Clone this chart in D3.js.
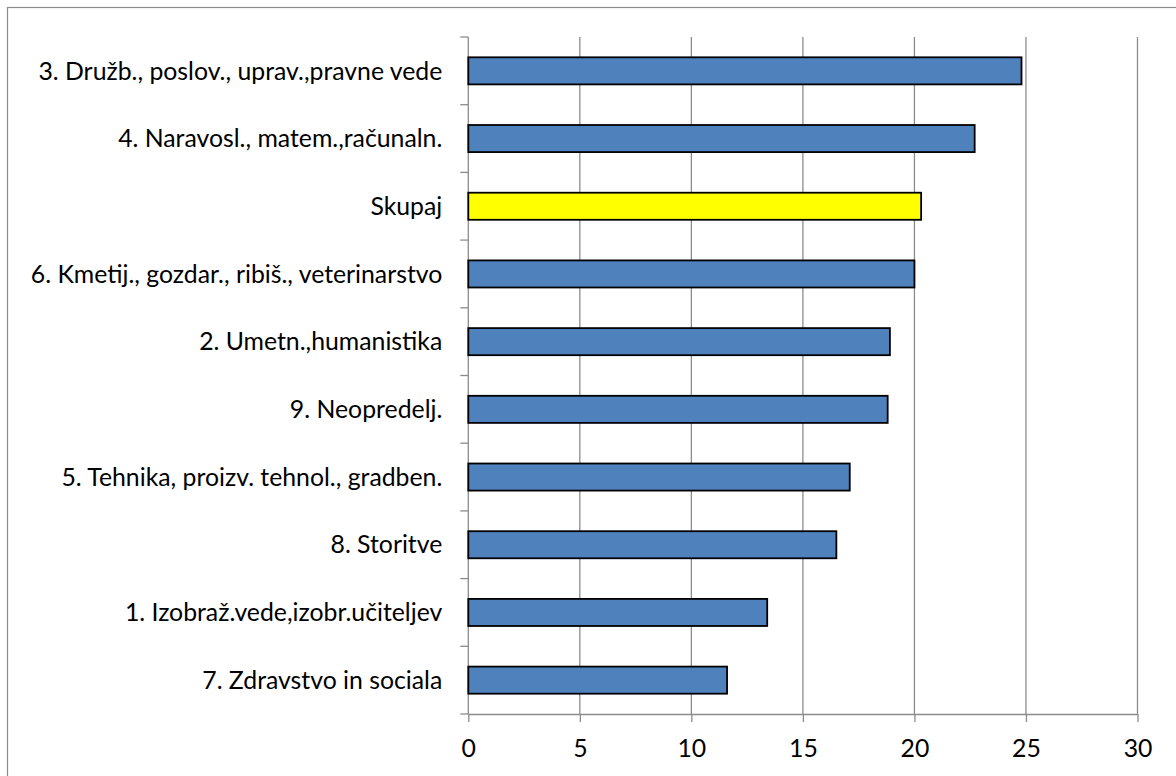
<!DOCTYPE html>
<html>
<head>
<meta charset="utf-8">
<script src="https://cdn.jsdelivr.net/npm/d3@7"></script>
<style>
  body { margin: 0; background: #fff; }
  svg { display: block; }
  text { font-family: Lato, "Open Sans", sans-serif; fill: #000; }
</style>
</head>
<body>
<div id="chart"></div>
<script>
  // categories top to bottom
  var categories = [
    "3. Družb., poslov., uprav.,pravne vede",
    "4. Naravosl., matem.,računaln.",
    "Skupaj",
    "6. Kmetij., gozdar., ribiš., veterinarstvo",
    "2. Umetn.,humanistika",
    "9. Neopredelj.",
    "5. Tehnika, proizv. tehnol., gradben.",
    "8. Storitve",
    "1. Izobraž.vede,izobr.učiteljev",
    "7. Zdravstvo in sociala"
  ];
  var values = [24.8, 22.7, 20.3, 20.0, 18.9, 18.8, 17.1, 16.5, 13.4, 11.6];
  var xTicks = [0, 5, 10, 15, 20, 25, 30];
  var highlight = "Skupaj";

  var width = 1176, height = 776;
  var margin = {top: 37, right: 38.5, bottom: 62, left: 468.3};
  var fontSize = 24.8;

  var svg = d3.select("#chart")
    .append("svg")
    .attr("width", width)
    .attr("height", height);

  //outer frame (cut off at right and bottom like the picture)
  svg.append("rect")
    .attr("x", 7.5).attr("y", 7.5)
    .attr("width", width + 10).attr("height", height + 10)
    .attr("fill", "none")
    .attr("stroke", "#8c8c8c")
    .attr("stroke-width", 1.2);

  var x = d3.scaleLinear()
    .domain([0, 30])
    .range([margin.left, width - margin.right]);

  var y = d3.scaleBand()
    .domain(categories)
    .range([margin.top, height - margin.bottom])
    .paddingInner(0.6)
    .paddingOuter(0.3);

  var gridColor = "#8c8c8c";

  // vertical gridlines
  svg.append("g")
    .selectAll("line")
    .data(xTicks.slice(1))
    .enter()
    .append("line")
    .attr("x1", function(d){ return x(d); })
    .attr("x2", function(d){ return x(d); })
    .attr("y1", margin.top)
    .attr("y2", height - margin.bottom)
    .attr("stroke", gridColor)
    .attr("stroke-width", 1.3);

  // bottom axis
  var xAxis = svg.append("g")
    .attr("transform", "translate(0," + (height - margin.bottom) + ")")
    .call(d3.axisBottom(x).tickValues(xTicks).tickSize(8).tickPadding(17).tickSizeOuter(0));
  xAxis.select(".domain").attr("stroke", gridColor).attr("stroke-width", 1.3);
  xAxis.selectAll(".tick line").attr("stroke", gridColor).attr("stroke-width", 1.3);
  xAxis.selectAll("text")
    .attr("font-size", fontSize)
    .attr("font-family", "Lato, sans-serif")
    .attr("fill", "#000");

  // left axis: line plus ticks on band edges
  var bandEdges = categories.map(function(c){ return y(c) - y.step() * y.paddingInner() / 2; });
  bandEdges.push(height - margin.bottom);

  svg.append("line")
    .attr("x1", x(0)).attr("x2", x(0))
    .attr("y1", margin.top).attr("y2", height - margin.bottom)
    .attr("stroke", gridColor).attr("stroke-width", 1.3);

  svg.append("g")
    .selectAll("line")
    .data(bandEdges)
    .enter()
    .append("line")
    .attr("x1", x(0) - 8)
    .attr("x2", x(0))
    .attr("y1", function(d){ return d; })
    .attr("y2", function(d){ return d; })
    .attr("stroke", gridColor)
    .attr("stroke-width", 1.3);

  // bars
  svg.append("g")
    .selectAll("rect")
    .data(values)
    .enter()
    .append("rect")
    .attr("x", x(0))
    .attr("y", function(d, i){ return y(categories[i]); })
    .attr("height", y.bandwidth())
    .attr("width", function(d){ return x(d) - x(0); })
    .attr("fill", function(d, i){ return categories[i] == highlight ? "#ffff00" : "#4f81bd"; })
    .attr("stroke", "#000")
    .attr("stroke-width", 1.8);

  // category labels
  svg.append("g")
    .selectAll("text")
    .data(categories)
    .enter()
    .append("text")
    .attr("x", x(0) - 26)
    .attr("y", function(d){ return y(d) + y.bandwidth() / 2; })
    .attr("dy", "0.35em")
    .attr("text-anchor", "end")
    .attr("font-size", fontSize)
    .text(function(d){ return d; });
</script>
</body>
</html>
